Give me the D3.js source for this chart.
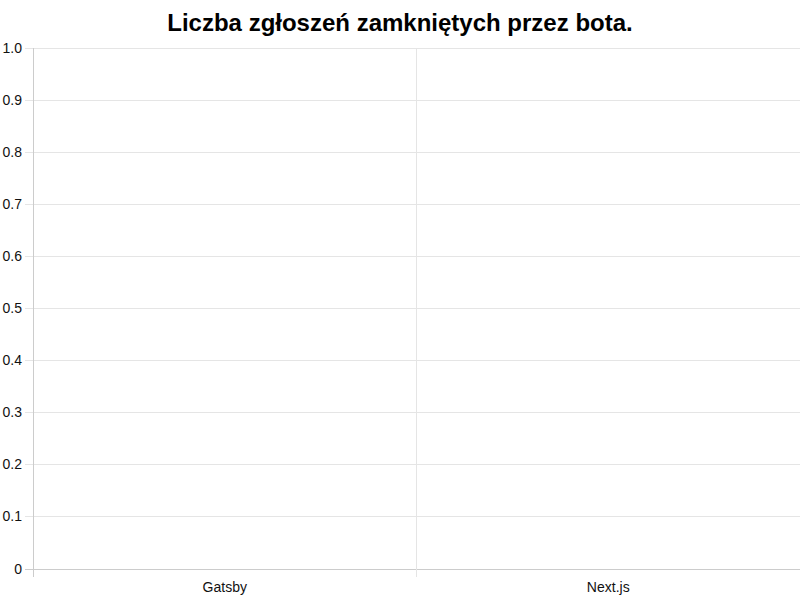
<!DOCTYPE html>
<html><head><meta charset="utf-8">
<script src="https://cdn.jsdelivr.net/npm/d3@7"></script>
<style>body{margin:0;background:#fff}svg{display:block}</style>
</head><body>
<svg id="c" width="800" height="600"></svg>
<script>
const title = "Liczba zgłoszeń zamkniętych przez bota.";
const categories = ["Gatsby", "Next.js"];
const values = [0, 0];
const yTicks = [0, 0.1, 0.2, 0.3, 0.4, 0.5, 0.6, 0.7, 0.8, 0.9, 1.0];

const svg = d3.select("#c");
const font = "'Liberation Sans', Arial, Helvetica, sans-serif";
const L = 33, R = 800, T = 48, B = 569;

const x = d3.scaleBand().domain(categories).range([L, R]);
const y = d3.scaleLinear().domain([0, 1]).range([B, T]);
const px = v => Math.floor(v) + 0.5;

svg.append("text").attr("x", 400).attr("y", 31).attr("text-anchor", "middle")
  .attr("font-family", font).attr("font-size", 24).attr("font-weight", "bold")
  .attr("fill", "#000").text(title);

// horizontal grid
svg.append("g").selectAll("line").data(yTicks).join("line")
  .attr("x1", L - 8).attr("x2", R).attr("y1", d => px(y(d))).attr("y2", d => px(y(d)))
  .attr("stroke", d => d === 0 ? "#cccccc" : "#e5e5e5").attr("stroke-width", 1);

// vertical grid (category boundaries)
const bounds = [L, x(categories[1])];
svg.append("g").selectAll("line").data(bounds).join("line")
  .attr("x1", d => px(d)).attr("x2", d => px(d))
  .attr("y1", T).attr("y2", B + 8)
  .attr("stroke", (d, i) => i === 0 ? "#cccccc" : "#e5e5e5").attr("stroke-width", 1);

// y labels
svg.append("g").selectAll("text").data(yTicks).join("text")
  .attr("x", 22).attr("y", d => y(d) + 4.5).attr("text-anchor", "end")
  .attr("font-family", font).attr("font-size", 14).attr("fill", "#111")
  .text(d => d === 0 ? "0" : d.toFixed(1));

// x labels
svg.append("g").selectAll("text").data(categories).join("text")
  .attr("x", d => x(d) + x.bandwidth() / 2).attr("y", 592).attr("text-anchor", "middle")
  .attr("font-family", font).attr("font-size", 14).attr("fill", "#111").text(d => d);

// bars (all zero)
svg.append("g").selectAll("rect").data(values).join("rect")
  .attr("x", (d, i) => x(categories[i]) + x.bandwidth() * 0.1)
  .attr("width", x.bandwidth() * 0.8)
  .attr("y", d => y(d)).attr("height", d => B - y(d))
  .attr("fill", "rgba(54,162,235,0.5)");
</script>
</body></html>
